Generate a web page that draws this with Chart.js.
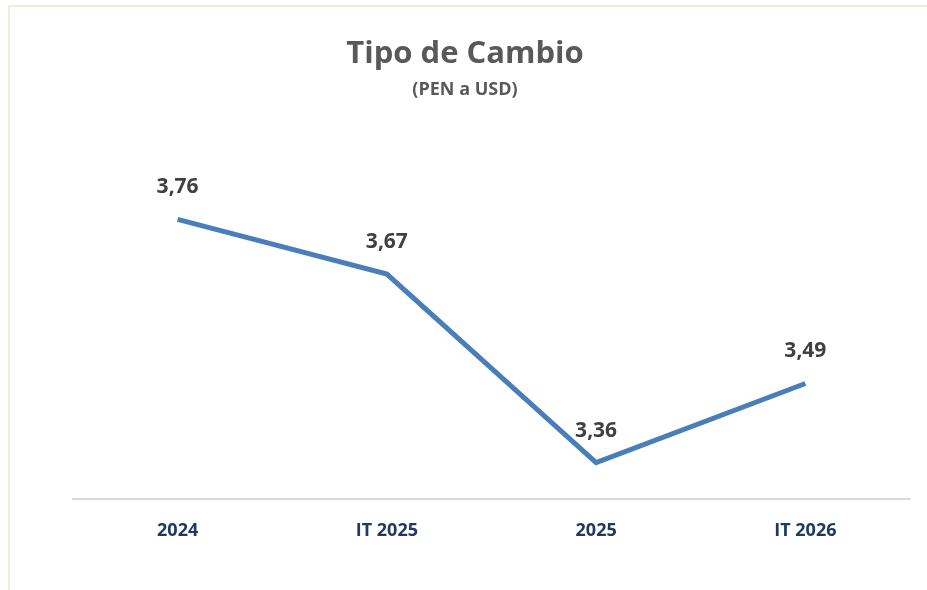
<!DOCTYPE html>
<html>
<head>
<meta charset="utf-8">
<script src="https://cdn.jsdelivr.net/npm/chart.js@4.4.1/dist/chart.umd.min.js"></script>
<style>
    html, body { margin: 0; padding: 0; background: #ffffff; }
    #wrap { position: relative; width: 927px; height: 590px; overflow: hidden; }
    #frame {
        position: absolute; left: 8px; top: 5px; width: 930px; height: 600px;
        border-top: 2px solid #eeebe1; border-left: 2px solid #eeebe1;
    }
    #title {
        position: absolute; left: 0; width: 930px; top: 30px; text-align: center;
        font-family: "Open Sans", sans-serif; font-weight: bold; font-size: 31px; color: #595959;
    }
    #subtitle {
        position: absolute; left: 0; width: 930px; top: 76px; text-align: center;
        font-family: "Open Sans", sans-serif; font-weight: bold; font-size: 18px; color: #595959;
    }
    canvas { position: absolute; left: 0; top: 0; }
</style>
</head>
<body>
<div id="wrap">
    <div id="frame"></div>
    <canvas id="fxChart" width="927" height="590"></canvas>
    <div id="title">Tipo de Cambio</div>
    <div id="subtitle">(PEN a USD)</div>
</div>
<script>
const periods = ["2024", "IT 2025", "2025", "IT 2026"];
const exchangeRate = [3.76, 3.67, 3.36, 3.49];
const axisMin = 3.3;
const axisMax = 3.8;

// etiquetas de datos encima de cada punto
const pointLabels = {
    id: 'pointLabels',
    afterDatasetsDraw(chart) {
        const ctx = chart.ctx;
        const meta = chart.getDatasetMeta(0);
        ctx.save();
        ctx.font = 'bold 21px "Open Sans", sans-serif';
        ctx.fillStyle = '#404040';
        ctx.textAlign = 'center';
        ctx.textBaseline = 'middle';
        meta.data.forEach((pt, i) => {
            const txt = exchangeRate[i].toFixed(2).replace('.', ',');
            ctx.fillText(txt, pt.x, pt.y - 32);
        });
        ctx.restore();
    }
};

const ctx = document.getElementById('fxChart').getContext('2d');
new Chart(ctx, {
    type: 'line',
    data: {
        labels: periods,
        datasets: [{
            label: 'Tipo de Cambio',
            data: exchangeRate,
            borderColor: '#4a7ebb',
            borderWidth: 5,
            pointRadius: 0,
            tension: 0,
            fill: false
        }]
    },
    options: {
        responsive: false,
        animation: false,
        layout: {
            padding: { left: 73, right: 17, top: 195, bottom: 0 }
        },
        plugins: {
            legend: { display: false },
            tooltip: { enabled: false },
            title: { display: false }
        },
        scales: {
            x: {
                offset: true,
                grid: { display: false, drawTicks: false },
                border: { display: true, color: '#d9d9d9', width: 2 },
                ticks: {
                    padding: 21,
                    color: '#1f3864',
                    font: { family: '"Open Sans", sans-serif', weight: 'bold', size: 18 }
                },
                afterFit(scale) { scale.height = 91; }
            },
            y: {
                display: false,
                min: axisMin,
                max: axisMax
            }
        }
    },
    plugins: [pointLabels]
});
</script>
</body>
</html>
